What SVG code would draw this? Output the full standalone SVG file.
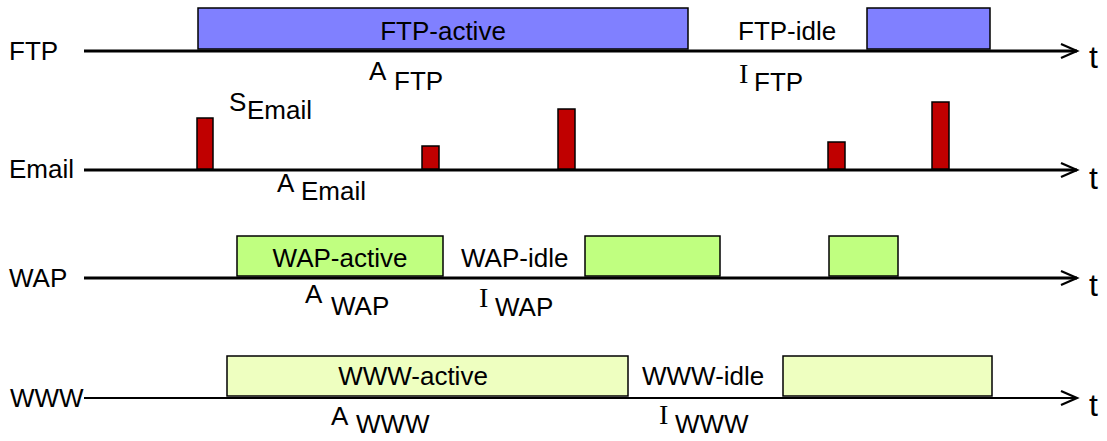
<svg xmlns="http://www.w3.org/2000/svg" width="1107" height="441" viewBox="0 0 1107 441">
<defs>
<style>
.lbl{font-family:"Liberation Sans",Arial,sans-serif;font-size:26px;fill:#000}
.t{font-family:"Liberation Sans",Arial,sans-serif;font-size:32px;fill:#000}
.ser{font-family:"Liberation Serif","Times New Roman",serif;font-size:28px;fill:#000}
.axis{stroke:#000;fill:none}
.ftp{fill:#8080FF;stroke:#000;stroke-width:1.5}
.mail{fill:#C00000;stroke:#000;stroke-width:1.5}
.wap{fill:#C0FF80;stroke:#000;stroke-width:1.5}
.www{fill:#EEFFC0;stroke:#000;stroke-width:1.5}
</style>
<marker id="arr" markerWidth="20" markerHeight="20" refX="17" refY="8" orient="auto" markerUnits="userSpaceOnUse">
<path d="M1,1 L17,8 L1,15" fill="none" stroke="#000" stroke-width="2.2"/>
</marker>
</defs>

<g id="connectors">
<line class="axis" x1="84" y1="51" x2="1077" y2="51" stroke-width="3" marker-end="url(#arr)"/>
<line class="axis" x1="84" y1="170" x2="1077" y2="170" stroke-width="3" marker-end="url(#arr)"/>
<line class="axis" x1="84" y1="278" x2="1077" y2="278" stroke-width="3" marker-end="url(#arr)"/>
<line class="axis" x1="84" y1="398" x2="1077" y2="398" stroke-width="2" marker-end="url(#arr)"/>
</g>

<g id="ftp-row">
<text class="lbl" x="9" y="60">FTP</text>
<g id="ftp-active"><rect class="ftp" x="198" y="8" width="490" height="41"/><text class="lbl" x="443" y="40" text-anchor="middle">FTP-active</text></g>
<g id="ftp-idle"><text class="lbl" x="738" y="40">FTP-idle</text></g>
<g id="ftp-active-2"><rect class="ftp" x="867" y="8" width="123" height="41"/></g>
<text class="lbl" x="369" y="80">A</text><text class="lbl" x="394" y="90">FTP</text>
<text class="ser" x="739" y="83">I</text><text class="lbl" x="754" y="91">FTP</text>
<text class="t" x="1089" y="68">t</text>
</g>

<g id="email-row">
<text class="lbl" x="9" y="178">Email</text>
<rect class="mail" x="197" y="118" width="16" height="51"/>
<rect class="mail" x="422" y="146" width="17" height="23"/>
<rect class="mail" x="558" y="109" width="17" height="60"/>
<rect class="mail" x="828" y="142" width="17" height="27"/>
<rect class="mail" x="932" y="102" width="17" height="67"/>
<text class="lbl" x="229" y="111">S</text><text class="lbl" x="247" y="119">Email</text>
<text class="lbl" x="277" y="192">A</text><text class="lbl" x="301" y="200">Email</text>
<text class="t" x="1089" y="189">t</text>
</g>

<g id="wap-row">
<text class="lbl" x="9" y="287">WAP</text>
<g id="wap-active"><rect class="wap" x="237" y="236" width="206" height="40"/><text class="lbl" x="340" y="267" text-anchor="middle">WAP-active</text></g>
<g id="wap-idle"><text class="lbl" x="461" y="267">WAP-idle</text></g>
<rect class="wap" x="585" y="236" width="135" height="40"/>
<rect class="wap" x="829" y="236" width="69" height="40"/>
<text class="lbl" x="305" y="303">A</text><text class="lbl" x="331" y="315">WAP</text>
<text class="ser" x="479" y="307">I</text><text class="lbl" x="495" y="316">WAP</text>
<text class="t" x="1089" y="296">t</text>
</g>

<g id="www-row">
<text class="lbl" x="10" y="407">WWW</text>
<g id="www-active"><rect class="www" x="227" y="356" width="401" height="40"/><text class="lbl" x="413" y="385" text-anchor="middle">WWW-active</text></g>
<g id="www-idle"><text class="lbl" x="642" y="385">WWW-idle</text></g>
<rect class="www" x="783" y="356" width="209" height="40"/>
<text class="lbl" x="331" y="425">A</text><text class="lbl" x="356" y="433">WWW</text>
<text class="ser" x="659" y="424">I</text><text class="lbl" x="675" y="433">WWW</text>
<text class="t" x="1089" y="416">t</text>
</g>
</svg>
